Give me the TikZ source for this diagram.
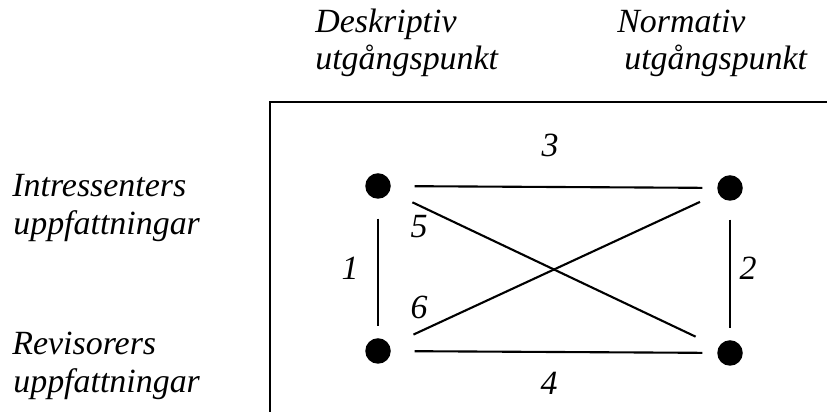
\documentclass[tikz,border=0pt]{standalone}
\usepackage{fontspec}
\setmainfont{Liberation Serif}
\usepackage{tikz}
\usetikzlibrary{positioning}

\begin{document}
\begin{tikzpicture}[
  dot/.style={circle,fill=black,inner sep=0pt,minimum size=0.51cm},
  lbl/.style={anchor=base west,inner sep=0pt,font=\fontsize{19.3}{21}\selectfont\itshape},
  num/.style={inner sep=0pt,font=\fontsize{19.3}{21}\selectfont\itshape},
  link/.style={line width=1.2pt}
]
\useasboundingbox (0,0) rectangle (16.54,8.24);
% Column headings
\node[lbl] (dh1) at (6.30,7.58) {Deskriptiv};
\node[lbl] (dh2) at (6.30,6.84) {utgångspunkt};
\node[lbl] (nh1) at (12.34,7.58) {Normativ};
\node[lbl] (nh2) at (12.48,6.84) {utgångspunkt};
% Row headings
\node[lbl] (ih1) at (0.24,4.30) {Intressenters};
\node[lbl] (ih2) at (0.26,3.54) {uppfattningar};
\node[lbl] (rh1) at (0.24,1.14) {Revisorers};
\node[lbl] (rh2) at (0.26,0.38) {uppfattningar};
% Frame
\draw[line width=1.5pt] (5.40,0) -- (5.40,6.20) -- (16.54,6.20);
% Four positions
\node[dot] (tl) at (7.56,4.52) {};
\node[dot] (tr) at (14.60,4.48) {};
\node[dot] (bl) at (7.56,1.22) {};
\node[dot] (br) at (14.60,1.18) {};
% Links
\draw[link,shorten <=0.47cm,shorten >=0.29cm] (tl) -- (tr);
\draw[link,shorten <=0.47cm,shorten >=0.29cm] (bl) -- (br);
\draw[link,shorten <=0.39cm,shorten >=0.23cm] (tl) -- (bl);
\draw[link,shorten <=0.37cm,shorten >=0.23cm] (tr) -- (br);
\draw[link,shorten <=0.50cm,shorten >=0.50cm] (tl) -- (br);
\draw[link,shorten <=0.52cm,shorten >=0.40cm] (bl) -- (tr);
% Link numbers
\node[num] (n3) at (11.00,5.34) {3};
\node[num] (n5) at (8.38,3.70) {5};
\node[num] (n1) at (7.00,2.88) {1};
\node[num] (n6) at (8.38,2.10) {6};
\node[num] (n2) at (14.96,2.88) {2};
\node[num] (n4) at (10.98,0.58) {4};
\end{tikzpicture}
\end{document}
